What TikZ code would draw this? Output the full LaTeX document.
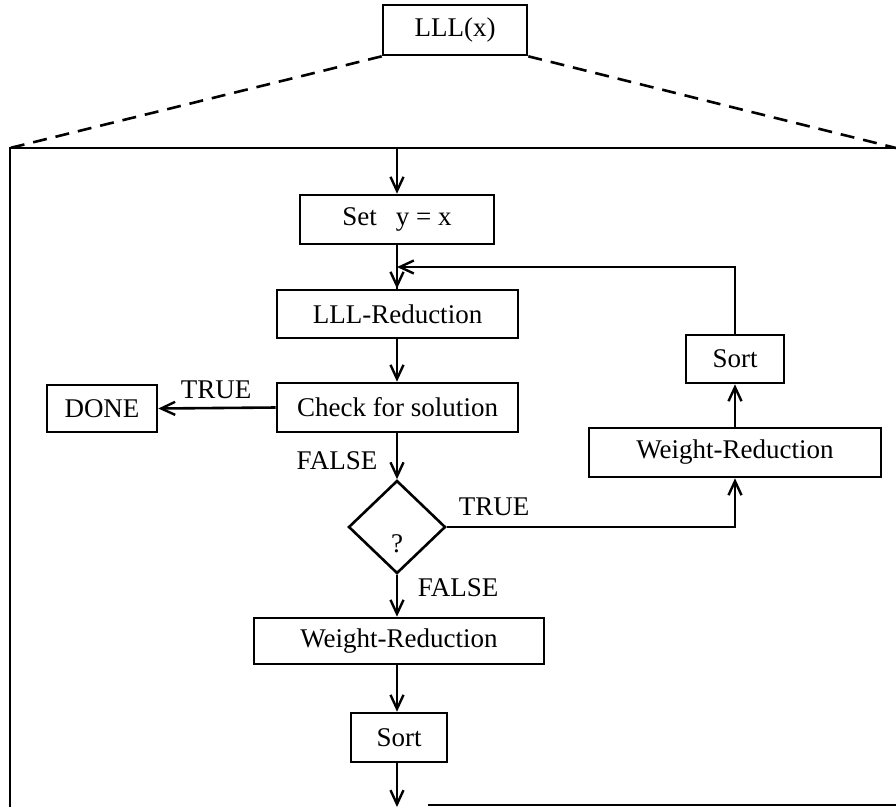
\documentclass[tikz,border=0pt]{standalone}
\usepackage{fontspec}
\setmainfont{Liberation Serif}
\usetikzlibrary{arrows.meta,shapes.geometric}

\tikzset{
  box/.style={draw, line width=2.6pt, inner sep=0pt, font=\fontsize{27}{30}\selectfont},
  lbl/.style={inner sep=0pt, font=\fontsize{27}{30}\selectfont},
  conn/.style={line width=2.6pt},
  arr/.style={conn, -{Straight Barb[length=14pt,width=13pt,line width=2.4pt]}},
  zoomline/.style={line width=2.6pt, dash pattern=on 14pt off 9pt},
}

\begin{document}
\begin{tikzpicture}[x=1pt, y=-1pt]
\useasboundingbox (0,0) rectangle (896,807);

% procedure being expanded
\node[box, minimum width=144pt, minimum height=50pt] (lll) at (455,30) {LLL(x)};

% frame of the expanded view
\coordinate (ftl) at (10,148);
\coordinate (ftr) at (896,148);
\coordinate (fbl) at (10,807);
\coordinate (fbm) at (428,805);
\coordinate (fbr) at (896,805);
\draw[conn] (fbl) -- (ftl) -- (ftr);
\draw[conn] (fbm) -- (fbr);
\draw[zoomline] (lll.south west) -- (ftl);
\draw[zoomline] (lll.south east) -- (ftr);

% main column
\node[box, minimum width=194pt, minimum height=49pt] (sety) at (397,219.5) {Set\hspace{0.7em}y = x};
\node[box, minimum width=241pt, minimum height=48pt] (lllred) at (397.5,314) {LLL-Reduction\hspace{0.9em}};
\node[box, minimum width=241pt, minimum height=49pt] (check) at (397.5,407.5) {Check for solution\hspace{0.4em}};
\node[box, minimum width=110pt, minimum height=47pt] (done) at (102,408.5) {DONE};
\node[draw, diamond, line width=2.6pt, inner sep=0pt, minimum width=97pt, minimum height=93pt] (q) at (397,527) {};
\node[lbl] (qmark) at (397,544) {?};
\node[box, minimum width=290pt, minimum height=46pt] (wrA) at (399,641) {Weight-Reduction};
\node[box, minimum width=96pt, minimum height=49pt] (sortA) at (399,737.5) {Sort};

% right-hand loop
\node[box, minimum width=292pt, minimum height=49pt] (wrB) at (735,452.5) {Weight-Reduction};
\node[box, minimum width=98pt, minimum height=48pt] (sortB) at (735,359) {Sort};

% branch labels
\node[lbl] (tDone) at (216,390) {TRUE};
\node[lbl] (fCheck) at (337,461) {FALSE};
\node[lbl] (tQ) at (494,507) {TRUE};
\node[lbl] (fQ) at (458,588) {FALSE};

% connectors
\coordinate (entry) at (397,148);
\coordinate (loopin) at (397,267);
\coordinate (exit) at (397,807);
\draw[arr] (entry) -- (entry |- sety.north);
\draw[conn] (sety.south -| entry) -- (entry |- lllred.north);
\draw[arr] (sortB.north) -- (sortB.north |- loopin) -- (loopin);
\draw[arr] (loopin) -- (entry |- lllred.north);
\draw[arr] (entry |- lllred.south) -- (entry |- check.north);
\draw[arr] (check.west) -- (done.east);
\draw[arr] (entry |- check.south) -- (q.north);
\draw[arr] (q.east) -- (q.east -| wrB.south) -- (wrB.south);
\draw[arr] (wrB.north) -- (sortB.south);
\draw[arr] (q.south) -- (q.south |- wrA.north);
\draw[arr] (q.south |- wrA.south) -- (q.south |- sortA.north);
\draw[arr] (q.south |- sortA.south) -- (exit);
\end{tikzpicture}
\end{document}
